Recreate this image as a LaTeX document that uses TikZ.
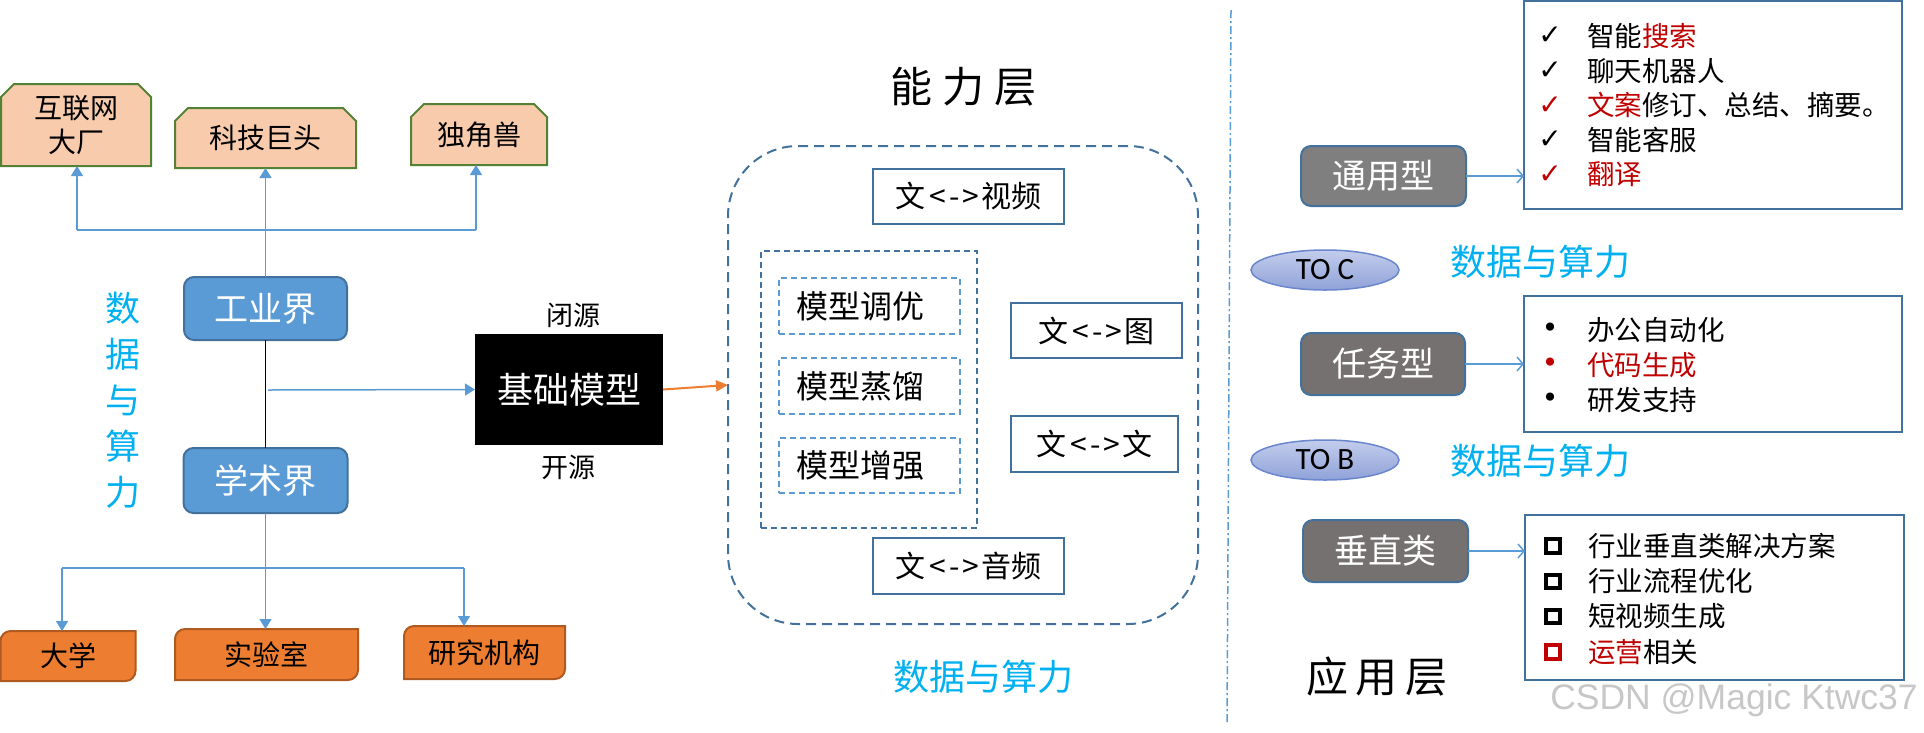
\documentclass[tikz,border=0pt]{standalone}
\usepackage{fontspec}
\setmainfont{Noto Sans CJK SC}
\newfontfamily\symf{DejaVu Sans}
\newfontfamily\latf{Carlito}
\newfontfamily\wmf{Liberation Sans}
\usetikzlibrary{arrows.meta,calc,backgrounds,shapes.geometric}
\definecolor{peach}{HTML}{F8CBAD}
\definecolor{leaf}{HTML}{548235}
\definecolor{orng}{HTML}{ED7D31}
\definecolor{orngd}{HTML}{AE5A21}
\definecolor{bl}{HTML}{5B9BD5}
\definecolor{bld}{HTML}{41719C}
\definecolor{cyantxt}{HTML}{00B0F0}
\definecolor{redc}{HTML}{C00000}
\definecolor{grA}{HTML}{7F7F7F}
\definecolor{grB}{HTML}{767171}
\definecolor{lavtop}{HTML}{C3CDEC}
\definecolor{lavbot}{HTML}{8FA2D8}
\definecolor{lavline}{HTML}{6A86CC}
\newcommand{\lr}{\hspace{4pt}<\hspace{3pt}-\hspace{3pt}>\hspace{2pt}}
\begin{document}
\begin{tikzpicture}[x=1pt,y=-1pt,
  plain/.style={inner sep=0pt,outer sep=0pt},
  ftxt/.style={font=\fontsize{#1}{#1}\selectfont},
  peachbox/.style={fill=peach,draw=leaf,line width=2pt},
  orangebox/.style={fill=orng,draw=orngd,line width=2pt},
  bluebox/.style={plain,fill=bl,draw=bld,line width=2pt,rounded corners=10pt,text=white,ftxt=34},
  graybox/.style={plain,draw=bld,line width=2pt,rounded corners=10pt,text=white,ftxt=34},
  capbox/.style={plain,draw=bld,line width=2pt,ftxt=30},
  modbox/.style={plain,draw=bl,line width=2pt,dash pattern=on 6pt off 4pt,ftxt=32},
  listbox/.style={plain,draw=bld,line width=2pt},
  conn/.style={draw=bl,line width=1.5pt},
  arr/.style={conn,-{Triangle[length=10pt,width=12pt]}},
  thinarr/.style={draw=bl,line width=1.5pt,-{Straight Barb[length=6pt,width=14pt]}},
  datatxt/.style={text=cyantxt,ftxt=36},
  toel/.style={ellipse,minimum width=148pt,minimum height=40pt,inner sep=0pt,
    top color=lavtop,bottom color=lavbot,draw=lavline,line width=1.5pt,
    font=\latf\fontsize{31}{31}\selectfont},
  chk/.style={font=\symf\fontsize{28}{28}\selectfont},
  dot/.style={font=\symf\fontsize{28}{28}\selectfont},
  itm/.style={anchor=west,inner sep=0pt,ftxt=27.5},
  sq/.style={draw=#1,line width=4pt,minimum width=13.5pt,minimum height=13.5pt,inner sep=0pt}
]
\useasboundingbox (0,0) rectangle (1924,732);

% ---- top company boxes
\node[plain,minimum width=150pt,minimum height=82pt,align=center,font=\fontsize{28}{34}\selectfont] (net) at (76,125) {互联网\\大厂};
\node[plain,minimum width=181pt,minimum height=60pt,ftxt=28] (tech) at (265.5,138) {科技巨头};
\node[plain,minimum width=136pt,minimum height=61pt,ftxt=28] (uni) at (479,134.5) {独角兽};

% ---- industry / academia
\node[bluebox,minimum width=163pt,minimum height=63pt] (ind) at (265.5,308.5) {工业界};
\node[bluebox,minimum width=164pt,minimum height=65pt] (aca) at (265.5,480.5) {学术界};
\draw[black,line width=1pt] (ind.south) -- (ind.south |- aca.north);

\coordinate (jl) at (77,230);
\coordinate (jr) at (476,230);
\draw[conn] (jl) -- (jr);
\draw[arr] (jl) -- (jl |- net.south);
\draw[arr] (jr) -- (jr |- uni.south);
\draw[arr] (ind.north) -- (ind.north |- tech.south);

% ---- foundation model
\node[plain,fill=black,text=white,minimum width=188pt,minimum height=111pt,ftxt=36] (fm) at (569,389.5) {基础模型};
\coordinate (mid) at (268,390);
\draw[arr] (mid) -- (fm.west);
\node[ftxt=27] (closed) at (573,315) {闭源};
\node[ftxt=27] (opened) at (568,467) {开源};

\node[datatxt,align=center,font=\fontsize{35}{46}\selectfont] (dl) at (123,400) {数\\据\\与\\算\\力};

% ---- lower boxes
\node[plain,minimum width=135pt,minimum height=50pt,ftxt=28] (dx) at (68,656) {大学};
\node[plain,minimum width=183pt,minimum height=51pt,ftxt=28] (lab) at (266.5,654.5) {实验室};
\node[plain,minimum width=161pt,minimum height=53pt,ftxt=28] (org) at (484.5,652.5) {研究机构};
\coordinate (kl) at (62,568);
\coordinate (kr) at (464,568);
\draw[conn] (kl) -- (kr);
\draw[arr] (kl) -- (kl |- dx.north);
\draw[arr] (kr) -- (kr |- org.north);
\draw[arr] (aca.south) -- (aca.south |- lab.north);

% ---- capability layer
\node[ftxt=42] (cap) at (963,87) {能\hspace{10pt}力\hspace{10pt}层};
\node[plain,draw=bld,line width=2pt,dash pattern=on 10pt off 6pt,rounded corners=70pt,minimum width=470pt,minimum height=478pt] (big) at (963,385) {};
\draw[orng,line width=2pt,-{Triangle[length=12pt,width=11pt]}] (fm.east) -- (big.west);
\node[capbox,minimum width=191pt,minimum height=55pt] (vid) at (968.5,196.5) {文\lr 视频};
\node[plain,draw=bld,line width=2pt,dash pattern=on 6pt off 4pt,minimum width=216pt,minimum height=277pt] (inner) at (869,389.5) {};
\node[modbox,minimum width=181pt,minimum height=56pt,text width=181pt,align=left] (m1) at (869.5,306) {\hspace{17pt}模型调优};
\node[modbox,minimum width=181pt,minimum height=56pt,text width=181pt,align=left] (m2) at (869.5,386) {\hspace{17pt}模型蒸馏};
\node[modbox,minimum width=181pt,minimum height=55pt,text width=181pt,align=left] (m3) at (869.5,465.5) {\hspace{17pt}模型增强};
\node[capbox,minimum width=171pt,minimum height=55pt] (img) at (1096.5,330.5) {文\lr 图};
\node[capbox,minimum width=167pt,minimum height=56pt] (txt) at (1094.5,444) {文\lr 文};
\node[capbox,minimum width=191pt,minimum height=56pt] (aud) at (968.5,566) {文\lr 音频};
\node[datatxt] (dm) at (983,677) {数据与算力};

% ---- divider
\coordinate (divtop) at (1231,10);
\coordinate (divbot) at (1227,724);
\draw[bl,line width=1.5pt,dash pattern=on 8pt off 3pt on 2pt off 3pt] (divtop) -- (divbot);

% ---- application layer: general
\node[graybox,fill=grA,minimum width=165pt,minimum height=60pt] (gen) at (1383.5,176) {通用型};
\node[listbox,minimum width=378pt,minimum height=208pt] (l1) at (1713,105) {};
\draw[thinarr] (gen.east) -- (gen.east -| l1.west);
\node[chk] (c1) at (1550,36) {✓};
\node[itm] (t1) at (1587,36) {智能\textcolor{redc}{搜索}};
\node[chk] (c2) at (1550,70.6) {✓};
\node[itm] (t2) at (1587,70.6) {聊天机器人};
\node[chk,text=redc] (c3) at (1550,105.2) {✓};
\node[itm] (t3) at (1587,105.2) {\textcolor{redc}{文案}修订、总结、摘要。};
\node[chk] (c4) at (1550,139.8) {✓};
\node[itm] (t4) at (1587,139.8) {智能客服};
\node[chk,text=redc] (c5) at (1550,174.4) {✓};
\node[itm] (t5) at (1587,174.4) {\textcolor{redc}{翻译}};

\node[toel] (toc) at (1325,270) {TO C};
\node[datatxt] (d2) at (1540,262) {数据与算力};

% ---- task
\node[graybox,fill=grB,minimum width=164pt,minimum height=62pt] (task) at (1383,364) {任务型};
\node[listbox,minimum width=378pt,minimum height=136pt] (l2) at (1713,364) {};
\draw[thinarr] (task.east) -- (task.east -| l2.west);
\node[dot] (b1) at (1550,330) {•};
\node[itm] (u1) at (1587,330) {办公自动化};
\node[dot,text=redc] (b2) at (1550,365) {•};
\node[itm] (u2) at (1587,365) {\textcolor{redc}{代码生成}};
\node[dot] (b3) at (1550,400) {•};
\node[itm] (u3) at (1587,400) {研发支持};

\node[toel] (tob) at (1325,460) {TO B};
\node[datatxt] (d3) at (1540,461) {数据与算力};

% ---- vertical
\node[graybox,fill=grB,minimum width=165pt,minimum height=62pt] (vert) at (1385.5,551) {垂直类};
\node[listbox,minimum width=379pt,minimum height=165pt] (l3) at (1714.5,597.5) {};
\draw[thinarr] (vert.east) -- (vert.east -| l3.west);
\node[sq=black] (s1) at (1553,546) {};
\node[itm] (v1) at (1588,546) {行业垂直类解决方案};
\node[sq=black] (s2) at (1553,581.3) {};
\node[itm] (v2) at (1588,581.3) {行业流程优化};
\node[sq=black] (s3) at (1553,616.6) {};
\node[itm] (v3) at (1588,616.6) {短视频生成};
\node[sq=redc] (s4) at (1553,652) {};
\node[itm] (v4) at (1588,652) {\textcolor{redc}{运营}相关};

\node[ftxt=42] (app) at (1377,677) {应\hspace{8pt}用\hspace{8pt}层};
\node[font=\wmf\fontsize{35.5}{35.5}\selectfont,text=black!22] (wm) at (1734,700) {CSDN @Magic Ktwc37};

% ---- custom box shapes behind the texts
\begin{scope}[on background layer]
\foreach \n in {net,tech,uni}{
  \path[peachbox] (\n.south west) -- ([yshift=-13pt]\n.north west) -- ([xshift=13pt]\n.north west)
    -- ([xshift=-13pt]\n.north east) -- ([yshift=-13pt]\n.north east) -- (\n.south east) -- cycle;
}
\foreach \n in {dx,lab,org}{
  \path[orangebox] (\n.south west) -- ([yshift=-10pt]\n.north west)
    .. controls ([yshift=-4.5pt]\n.north west) and ([xshift=4.5pt]\n.north west) .. ([xshift=10pt]\n.north west)
    -- (\n.north east) -- ([yshift=10pt]\n.south east)
    .. controls ([yshift=4.5pt]\n.south east) and ([xshift=-4.5pt]\n.south east) .. ([xshift=-10pt]\n.south east)
    -- cycle;
}
\end{scope}
\end{tikzpicture}
\end{document}
